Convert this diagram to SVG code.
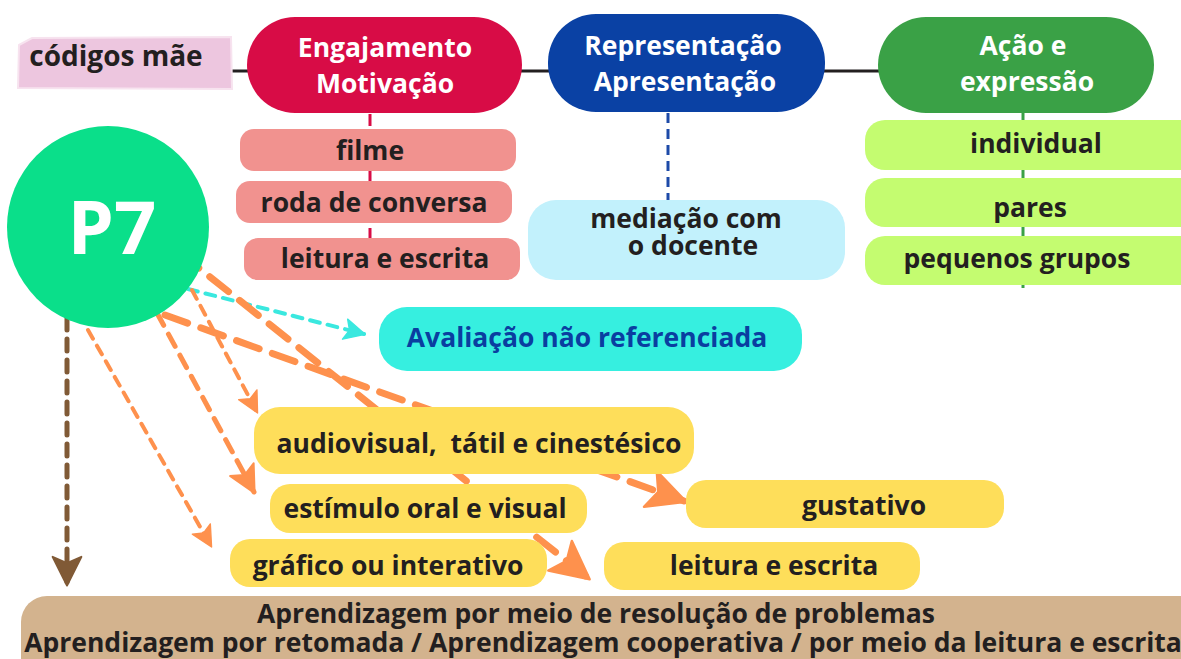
<svg xmlns="http://www.w3.org/2000/svg" width="1181" height="659" viewBox="0 0 1181 659">
  <defs>
    <style>
      .t { font-family: "Open Sans", "Noto Sans", "Liberation Sans", sans-serif; font-weight: 700; font-size: 26.5px; fill: #231f20; text-anchor: middle; }
      .w { fill: #ffffff; }
      .nv { fill: #0a3ea0; }
      .dash { fill: none; stroke-linecap: round; }
      .or { stroke: #fe914d; }
      .ah { stroke-linejoin: round; stroke-width: 0.6; }
    </style>
    <marker id="aBig" markerUnits="userSpaceOnUse" viewBox="0 0 10 10" refX="9" refY="5" markerWidth="42" markerHeight="42" orient="auto">
      <path class="ah" d="M0.5,0.5 L9.5,5 L0.5,9.5 L2.5,5 Z" fill="#fe914d" stroke="#fe914d"/>
    </marker>
    <marker id="aMid" markerUnits="userSpaceOnUse" viewBox="0 0 10 10" refX="9" refY="5" markerWidth="30" markerHeight="30" orient="auto">
      <path class="ah" d="M0.5,0.5 L9.5,5 L0.5,9.5 L2.5,5 Z" fill="#fe914d" stroke="#fe914d"/>
    </marker>
    <marker id="aSm" markerUnits="userSpaceOnUse" viewBox="0 0 10 10" refX="9" refY="5" markerWidth="23" markerHeight="23" orient="auto">
      <path class="ah" d="M0.5,0.5 L9.5,5 L0.5,9.5 L2.5,5 Z" fill="#fe914d" stroke="#fe914d"/>
    </marker>
    <marker id="aCy" markerUnits="userSpaceOnUse" viewBox="0 0 10 10" refX="9" refY="5" markerWidth="23" markerHeight="23" orient="auto">
      <path class="ah" d="M0.5,0.5 L9.5,5 L0.5,9.5 L2.5,5 Z" fill="#3ae8df" stroke="#3ae8df"/>
    </marker>
    <marker id="aBr" markerUnits="userSpaceOnUse" viewBox="0 0 10 10" refX="9" refY="5" markerWidth="32" markerHeight="32" orient="auto">
      <path class="ah" d="M0.5,0.5 L9.5,5 L0.5,9.5 L2.5,5 Z" fill="#805a36" stroke="#805a36"/>
    </marker>
  </defs>

  <rect width="1181" height="659" fill="#ffffff"/>

  <g id="connectors">
    <line x1="232" y1="71" x2="880" y2="71" stroke="#231f20" stroke-width="3"/>
    <line x1="370" y1="114" x2="370" y2="240" stroke="#d80c46" stroke-width="3" stroke-dasharray="12 7"/>
    <line x1="668" y1="113" x2="668" y2="200" stroke="#1d4aa8" stroke-width="3" stroke-dasharray="10 6"/>
    <line x1="1023" y1="113" x2="1023" y2="288" stroke="#3aa146" stroke-width="3" stroke-dasharray="12 7"/>
    <line class="dash" x1="67" y1="318" x2="67" y2="584" stroke="#805a36" stroke-width="5" stroke-dasharray="12 9" marker-end="url(#aBr)"/>
    <line class="dash" x1="188" y1="289" x2="364" y2="334" stroke="#3ae8df" stroke-width="4" stroke-dasharray="10 8" marker-end="url(#aCy)"/>
    <line class="dash or" x1="180" y1="253" x2="588" y2="578" stroke-width="7" stroke-dasharray="24 14" marker-end="url(#aBig)"/>
    <line class="dash or" x1="165" y1="315" x2="684" y2="501" stroke-width="7" stroke-dasharray="24 14" marker-end="url(#aBig)"/>
    <line class="dash or" x1="192" y1="290" x2="257" y2="412" stroke-width="4" stroke-dasharray="10 8" marker-end="url(#aSm)"/>
    <line class="dash or" x1="157" y1="313" x2="254" y2="492" stroke-width="5" stroke-dasharray="14 10" marker-end="url(#aMid)"/>
    <line class="dash or" x1="88" y1="330" x2="211" y2="546" stroke-width="4" stroke-dasharray="10 8" marker-end="url(#aSm)"/>
  </g>

  <g id="codigos-mae">
    <polygon points="19,45 32,38 231,37 232,89 18,88" fill="#edc6df" stroke="#f7e3ef" stroke-width="2"/>
    <text class="t" x="116" y="66" style="font-size:28px">códigos mãe</text>
  </g>

  <g id="engajamento">
    <rect x="247" y="17" width="275" height="96" rx="48" fill="#d80c46"/>
    <text class="t w" x="385" y="57">Engajamento</text>
    <text class="t w" x="385" y="93">Motivação</text>
  </g>

  <g id="representacao">
    <rect x="548" y="14" width="277" height="98" rx="48" fill="#0a41a4"/>
    <text class="t w" x="683" y="55">Representação</text>
    <text class="t w" x="685" y="91">Apresentação</text>
  </g>

  <g id="acao">
    <rect x="878" y="17" width="276" height="96" rx="48" fill="#3aa146"/>
    <text class="t w" x="1023" y="55">Ação e</text>
    <text class="t w" x="1027" y="91">expressão</text>
  </g>

  <g id="filme">
    <rect x="240" y="129" width="276" height="42" rx="14" fill="#f1928f"/>
    <text class="t" x="370" y="160">filme</text>
  </g>
  <g id="roda-de-conversa">
    <rect x="236" y="181" width="276" height="42" rx="14" fill="#f1928f"/>
    <text class="t" x="374" y="212">roda de conversa</text>
  </g>
  <g id="leitura-escrita-1">
    <rect x="244" y="238" width="276" height="42" rx="14" fill="#f1928f"/>
    <text class="t" x="385" y="268">leitura e escrita</text>
  </g>

  <g id="mediacao">
    <rect x="528" y="200" width="317" height="80" rx="28" fill="#c2f1fc"/>
    <text class="t" x="686" y="228">mediação com</text>
    <text class="t" x="693" y="255">o docente</text>
  </g>

  <g id="individual">
    <rect x="865" y="120" width="340" height="50" rx="20" fill="#c4fc70"/>
    <text class="t" x="1036" y="153">individual</text>
  </g>
  <g id="pares">
    <rect x="865" y="178" width="340" height="49" rx="20" fill="#c4fc70"/>
    <text class="t" x="1030" y="217">pares</text>
  </g>
  <g id="pequenos-grupos">
    <rect x="865" y="236" width="340" height="49" rx="20" fill="#c4fc70"/>
    <text class="t" x="1017" y="268">pequenos grupos</text>
  </g>

  <g id="p7">
    <circle cx="108" cy="227" r="101" fill="#0adf8a"/>
    <text class="t w" x="112" y="254" style="font-size:74px">P7</text>
  </g>

  <g id="avaliacao">
    <rect x="379" y="307" width="423" height="64" rx="28" fill="#36efe0"/>
    <text class="t nv" x="587" y="347">Avaliação não referenciada</text>
  </g>

  <g id="audiovisual">
    <rect x="254" y="407" width="440" height="67" rx="26" fill="#fede5a"/>
    <text class="t" x="479" y="453" xml:space="preserve">audiovisual,  tátil e cinestésico</text>
  </g>
  <g id="estimulo">
    <rect x="270" y="484" width="317" height="49" rx="20" fill="#fede5a"/>
    <text class="t" x="425" y="518">estímulo oral e visual</text>
  </g>
  <g id="gustativo">
    <rect x="686" y="480" width="318" height="48" rx="20" fill="#fede5a"/>
    <text class="t" x="864" y="515">gustativo</text>
  </g>
  <g id="grafico">
    <rect x="230" y="539" width="317" height="48" rx="20" fill="#fede5a"/>
    <text class="t" x="388" y="575">gráfico ou interativo</text>
  </g>
  <g id="leitura-escrita-2">
    <rect x="604" y="542" width="316" height="48" rx="20" fill="#fede5a"/>
    <text class="t" x="774" y="575">leitura e escrita</text>
  </g>

  <g id="aprendizagem">
    <rect x="21" y="596" width="1200" height="100" rx="26" fill="#d3b38e"/>
    <text class="t" x="596" y="623">Aprendizagem por meio de resolução de problemas</text>
    <text class="t" x="603" y="652">Aprendizagem por retomada / Aprendizagem cooperativa / por meio da leitura e escrita</text>
  </g>
</svg>
